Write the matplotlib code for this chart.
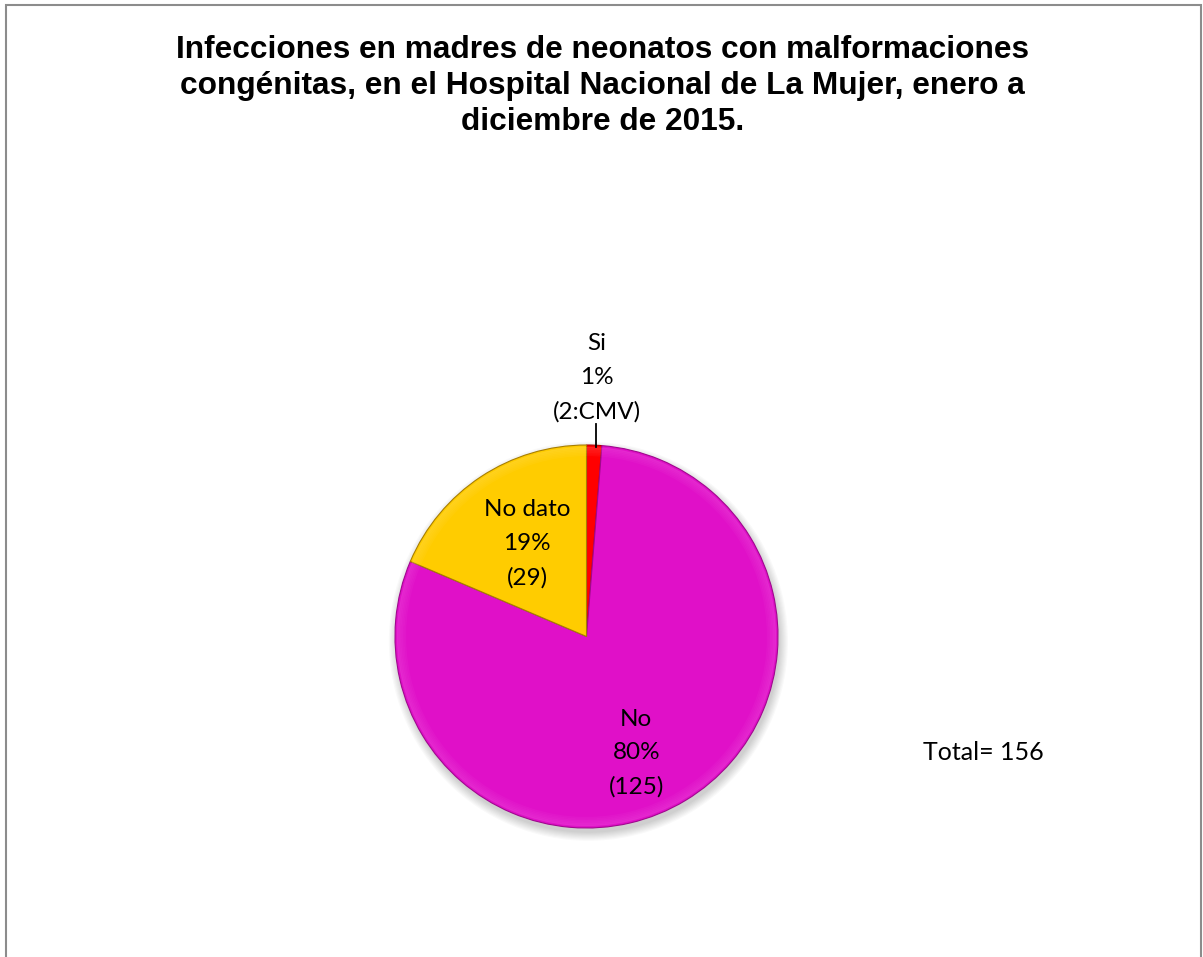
import matplotlib.pyplot as plt
import numpy as np
from matplotlib.patches import Rectangle, Circle, Wedge

categorias = ["Si", "No", "No dato"]
casos = [2, 125, 29]
detalle = ["2:CMV", "125", "29"]
colores = ["#FF0000", "#E010C8", "#FFCC00"]
bordes = ["#B00000", "#A0088E", "#A87E00"]
brillos = ["#FF6060", "#EE55DD", "#FFDD55"]

total = sum(casos)

fig = plt.figure(figsize=(12.03, 9.57), dpi=100)
fig.patch.set_facecolor("white")

# marco gris del area del grafico
fig.patches.append(Rectangle((6 / 1203, -0.01), 1195 / 1203, 1 - 5 / 957 + 0.01,
                             transform=fig.transFigure, fill=False,
                             edgecolor="#8C8C8C", linewidth=1.5))

fig.text(0.501, 1 - 35 / 957,
         "Infecciones en madres de neonatos con malformaciones\n"
         "congénitas, en el Hospital Nacional de La Mujer, enero a\n"
         "diciembre de 2015.",
         ha="center", va="top", fontsize=22.8, fontweight="bold",
         family="Liberation Sans", linespacing=1.27)

# el pastel ocupa de x=395 a 778 y de y=446 a 827 (px); ejes con margen
r_px = 191.5
cx, cy = 586.5, 636.5
m = 1.6
ax = fig.add_axes([(cx - m * r_px) / 1203, 1 - (cy + m * r_px) / 957,
                   2 * m * r_px / 1203, 2 * m * r_px / 957])

# sombra suave bajo el pastel
for k in range(8):
    ax.add_patch(Circle((0.01, -0.025), 1.0 + 0.006 * k, color="black",
                        alpha=0.022, zorder=0, linewidth=0))

wedges, _ = ax.pie(casos, colors=colores, startangle=90, counterclock=False,
                   wedgeprops=dict(linewidth=0.8))
for w, b, c in zip(wedges, bordes, brillos):
    w.set_edgecolor(b)
    w.set_zorder(2)
    # bisel claro y difuso junto al borde exterior
    for k in range(6):
        ax.add_patch(Wedge((0, 0), 0.99 - 0.008 * k, w.theta1, w.theta2,
                           width=0.008, facecolor=c, alpha=0.35 - 0.05 * k,
                           linewidth=0, zorder=3))

# textos de cada sector
fuente = dict(family="Lato", fontsize=17.5, ha="center", va="center",
              linespacing=1.75, zorder=5)
pct = [round(100 * c / total) for c in casos]
posiciones = [(0.052, 1.35), (0.26, -0.61), (-0.31, 0.485)]
for cat, p, d, (x, y) in zip(categorias, pct, detalle, posiciones):
    ax.text(x, y, f"{cat}\n{p}%\n({d})", **fuente)

# linea guia del sector "Si"
ax.plot([0.052, 0.052], [1.11, 0.99], color="black", linewidth=1.3, zorder=6)

ax.set_xlim(-m, m)
ax.set_ylim(-m, m)
ax.set_aspect("equal")
ax.axis("off")

fig.text(983 / 1203, 1 - 753 / 957, f"Total= {total}", family="Lato",
         fontsize=18, ha="center", va="center")

fig.savefig("out.png", dpi=100)
